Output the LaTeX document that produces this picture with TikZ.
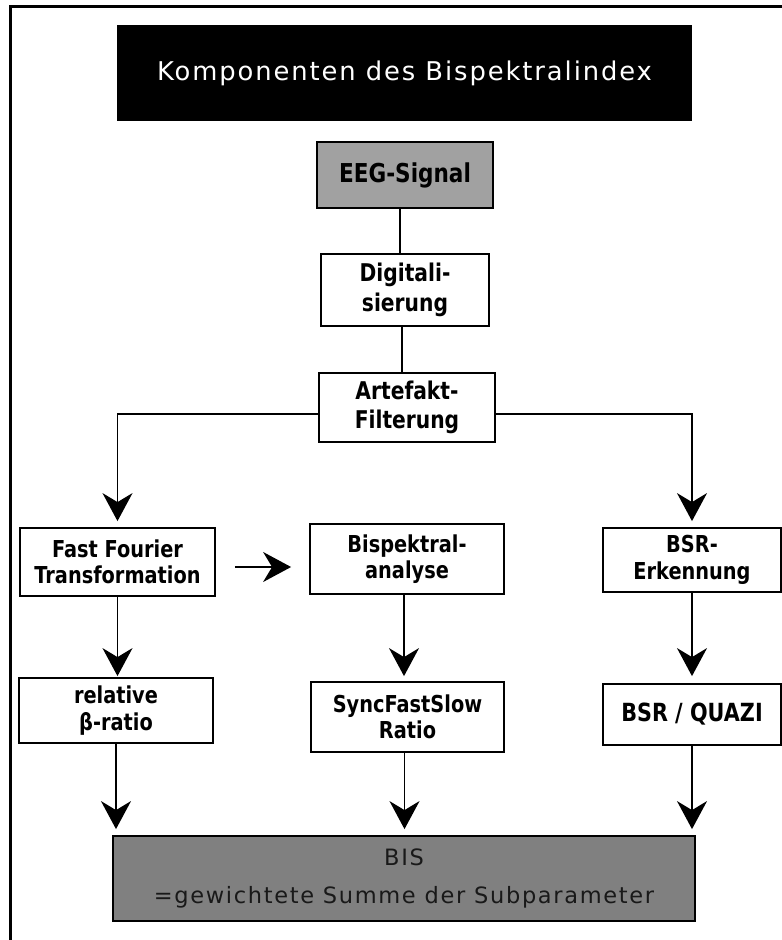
\documentclass[tikz,border=0pt]{standalone}
\usepackage{fontspec}
\setmainfont{DejaVu Sans}
\newfontfamily\bxf{DejaVu Sans Bold}[FakeStretch=0.83]
\newfontfamily\spf{DejaVu Sans}[LetterSpace=7.4]
\usetikzlibrary{arrows.meta}
\begin{document}
\begin{tikzpicture}[x=1bp,y=-1bp,
  box/.style={draw=black,line width=1.8bp,fill=white,inner sep=0pt,align=center,
    font=\bxf\fontsize{23.3bp}{26.5bp}\selectfont},
  conn/.style={line width=1.4bp},
  arr/.style={line width=1.4bp,-{Stealth[length=28bp,width=30bp,inset=9bp]}}]
\useasboundingbox (0,0) rectangle (782,940);
\draw[line width=3bp] (10,6) rectangle (820,980);
% title
\node[fill=black,inner sep=0pt,minimum width=575bp,minimum height=96bp,text=white,
  font=\spf\fontsize{25.8bp}{28bp}\selectfont] (title) at (404.5,73) {Komponenten des Bispektralindex};
% chain
\node[box,fill=black!37,minimum width=176bp,minimum height=66bp,font=\bxf\fontsize{26bp}{28bp}\selectfont] (eeg) at (405,175) {EEG-Signal};
\node[box,minimum width=168bp,minimum height=72bp,font=\bxf\fontsize{24.4bp}{29.5bp}\selectfont] (dig) at (405,290) {Digitali-\\sierung};
\node[box,minimum width=176bp,minimum height=69bp,font=\bxf\fontsize{24.4bp}{29.5bp}\selectfont] (art) at (407,407.5) {Artefakt-\\Filterung};
% row 1
\node[box,minimum width=195bp,minimum height=68bp] (fft) at (117.5,562) {Fast Fourier\\Transformation};
\node[box,minimum width=194bp,minimum height=70bp] (bisp) at (407,559) {Bispektral-\\analyse};
\node[box,minimum width=178bp,minimum height=64bp] (bsr) at (692,560) {BSR-\\Erkennung};
% row 2
\node[box,minimum width=194bp,minimum height=65bp] (rel) at (116,710.5) {relative\\β-ratio};
\node[box,minimum width=193bp,minimum height=70bp] (sync) at (407.5,717) {SyncFastSlow\\Ratio};
\node[box,minimum width=178bp,minimum height=61bp,font=\bxf\fontsize{25bp}{27bp}\selectfont] (quazi) at (692,714.5) {BSR / QUAZI};
% BIS
\node[draw=black,line width=1.8bp,fill=black!50,inner sep=0pt,align=center,minimum width=582bp,minimum height=85bp,
  text=black!90,font=\spf\fontsize{22.5bp}{38bp}\selectfont] (bis) at (404,878.5) {BIS\\=gewichtete Summe der Subparameter};
% connectors
\draw[conn] ([xshift=-5bp]eeg.south) -- ([xshift=-5bp]eeg.south |- dig.north);
\draw[conn] ([xshift=-3bp]dig.south) -- ([xshift=-3bp]dig.south |- art.north);
\coordinate (sl) at (art.west |- 0,414);
\coordinate (sr) at (art.east |- 0,414);
\draw[arr,shorten >=6bp] (sl) -| (fft.north);
\draw[arr,shorten >=6bp] (sr) -| (bsr.north);
\draw[arr] ([xshift=19bp]fft.east |- 0,567) -- ([xshift=-18bp]bisp.west |- 0,567);
\draw[arr,shorten >=1bp] (fft.south) -- (fft.south |- rel.north);
\draw[arr,shorten >=5bp] ([xshift=-3bp]bisp.south) -- ([xshift=-3bp]bisp.south |- sync.north);
\draw[arr,shorten >=7bp] (bsr.south) -- (bsr.south |- quazi.north);
\draw[arr,shorten >=6bp] (rel.south) -- (rel.south |- bis.north);
\draw[arr,shorten >=6bp] ([xshift=-3bp]sync.south) -- ([xshift=-3bp]sync.south |- bis.north);
\draw[arr,shorten >=6bp] (quazi.south) -- (quazi.south |- bis.north);
\end{tikzpicture}
\end{document}
